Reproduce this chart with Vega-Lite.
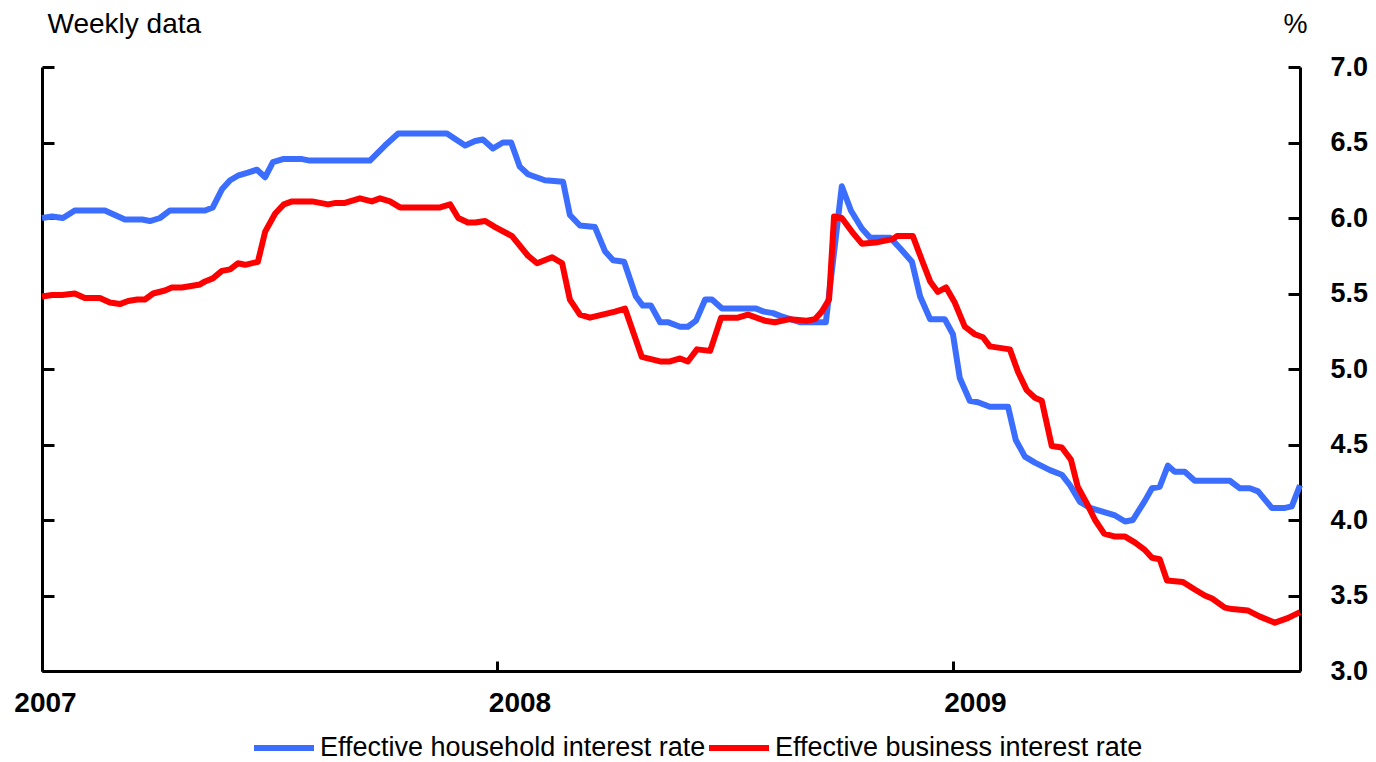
{
  "$schema": "https://vega.github.io/schema/vega-lite/v6.json",
  "width": 1258,
  "height": 604,
  "autosize": "none",
  "padding": {"left": 42, "top": 67, "right": 76, "bottom": 91},
  "background": "white",
  "config": {
    "view": {"stroke": null},
    "font": "Liberation Sans",
    "axis": {"grid": false, "domainColor": "black", "domainWidth": 3, "tickColor": "black", "tickWidth": 3, "labelColor": "black", "titleColor": "black"}
  },
  "datasets": {
    "rates": [
      {"series": "Effective household interest rate", "time": 2007.000, "rate": 6.00},
      {"series": "Effective household interest rate", "time": 2007.022, "rate": 6.01},
      {"series": "Effective household interest rate", "time": 2007.046, "rate": 6.00},
      {"series": "Effective household interest rate", "time": 2007.072, "rate": 6.05},
      {"series": "Effective household interest rate", "time": 2007.138, "rate": 6.05},
      {"series": "Effective household interest rate", "time": 2007.160, "rate": 6.02},
      {"series": "Effective household interest rate", "time": 2007.182, "rate": 5.99},
      {"series": "Effective household interest rate", "time": 2007.220, "rate": 5.99},
      {"series": "Effective household interest rate", "time": 2007.237, "rate": 5.98},
      {"series": "Effective household interest rate", "time": 2007.259, "rate": 6.00},
      {"series": "Effective household interest rate", "time": 2007.281, "rate": 6.05},
      {"series": "Effective household interest rate", "time": 2007.358, "rate": 6.05},
      {"series": "Effective household interest rate", "time": 2007.375, "rate": 6.07},
      {"series": "Effective household interest rate", "time": 2007.395, "rate": 6.19},
      {"series": "Effective household interest rate", "time": 2007.413, "rate": 6.25},
      {"series": "Effective household interest rate", "time": 2007.430, "rate": 6.28},
      {"series": "Effective household interest rate", "time": 2007.452, "rate": 6.30},
      {"series": "Effective household interest rate", "time": 2007.472, "rate": 6.32},
      {"series": "Effective household interest rate", "time": 2007.490, "rate": 6.27},
      {"series": "Effective household interest rate", "time": 2007.507, "rate": 6.37},
      {"series": "Effective household interest rate", "time": 2007.529, "rate": 6.39},
      {"series": "Effective household interest rate", "time": 2007.571, "rate": 6.39},
      {"series": "Effective household interest rate", "time": 2007.588, "rate": 6.38},
      {"series": "Effective household interest rate", "time": 2007.720, "rate": 6.38},
      {"series": "Effective household interest rate", "time": 2007.753, "rate": 6.48},
      {"series": "Effective household interest rate", "time": 2007.782, "rate": 6.56},
      {"series": "Effective household interest rate", "time": 2007.889, "rate": 6.56},
      {"series": "Effective household interest rate", "time": 2007.929, "rate": 6.48},
      {"series": "Effective household interest rate", "time": 2007.951, "rate": 6.51},
      {"series": "Effective household interest rate", "time": 2007.968, "rate": 6.52},
      {"series": "Effective household interest rate", "time": 2007.990, "rate": 6.46},
      {"series": "Effective household interest rate", "time": 2008.012, "rate": 6.50},
      {"series": "Effective household interest rate", "time": 2008.030, "rate": 6.50},
      {"series": "Effective household interest rate", "time": 2008.049, "rate": 6.34},
      {"series": "Effective household interest rate", "time": 2008.067, "rate": 6.29},
      {"series": "Effective household interest rate", "time": 2008.104, "rate": 6.25},
      {"series": "Effective household interest rate", "time": 2008.144, "rate": 6.24},
      {"series": "Effective household interest rate", "time": 2008.159, "rate": 6.02},
      {"series": "Effective household interest rate", "time": 2008.181, "rate": 5.95},
      {"series": "Effective household interest rate", "time": 2008.214, "rate": 5.94},
      {"series": "Effective household interest rate", "time": 2008.236, "rate": 5.78},
      {"series": "Effective household interest rate", "time": 2008.254, "rate": 5.72},
      {"series": "Effective household interest rate", "time": 2008.278, "rate": 5.71},
      {"series": "Effective household interest rate", "time": 2008.304, "rate": 5.48},
      {"series": "Effective household interest rate", "time": 2008.319, "rate": 5.42},
      {"series": "Effective household interest rate", "time": 2008.337, "rate": 5.42},
      {"series": "Effective household interest rate", "time": 2008.357, "rate": 5.31},
      {"series": "Effective household interest rate", "time": 2008.374, "rate": 5.31},
      {"series": "Effective household interest rate", "time": 2008.401, "rate": 5.28},
      {"series": "Effective household interest rate", "time": 2008.418, "rate": 5.28},
      {"series": "Effective household interest rate", "time": 2008.436, "rate": 5.32},
      {"series": "Effective household interest rate", "time": 2008.456, "rate": 5.46},
      {"series": "Effective household interest rate", "time": 2008.471, "rate": 5.46},
      {"series": "Effective household interest rate", "time": 2008.493, "rate": 5.40},
      {"series": "Effective household interest rate", "time": 2008.568, "rate": 5.40},
      {"series": "Effective household interest rate", "time": 2008.585, "rate": 5.38},
      {"series": "Effective household interest rate", "time": 2008.605, "rate": 5.37},
      {"series": "Effective household interest rate", "time": 2008.622, "rate": 5.35},
      {"series": "Effective household interest rate", "time": 2008.664, "rate": 5.31},
      {"series": "Effective household interest rate", "time": 2008.721, "rate": 5.31},
      {"series": "Effective household interest rate", "time": 2008.756, "rate": 6.21},
      {"series": "Effective household interest rate", "time": 2008.776, "rate": 6.05},
      {"series": "Effective household interest rate", "time": 2008.800, "rate": 5.93},
      {"series": "Effective household interest rate", "time": 2008.818, "rate": 5.87},
      {"series": "Effective household interest rate", "time": 2008.862, "rate": 5.87},
      {"series": "Effective household interest rate", "time": 2008.884, "rate": 5.80},
      {"series": "Effective household interest rate", "time": 2008.910, "rate": 5.71},
      {"series": "Effective household interest rate", "time": 2008.928, "rate": 5.48},
      {"series": "Effective household interest rate", "time": 2008.950, "rate": 5.33},
      {"series": "Effective household interest rate", "time": 2008.982, "rate": 5.33},
      {"series": "Effective household interest rate", "time": 2009.000, "rate": 5.23},
      {"series": "Effective household interest rate", "time": 2009.015, "rate": 4.94},
      {"series": "Effective household interest rate", "time": 2009.037, "rate": 4.79},
      {"series": "Effective household interest rate", "time": 2009.055, "rate": 4.78},
      {"series": "Effective household interest rate", "time": 2009.081, "rate": 4.75},
      {"series": "Effective household interest rate", "time": 2009.121, "rate": 4.75},
      {"series": "Effective household interest rate", "time": 2009.138, "rate": 4.53},
      {"series": "Effective household interest rate", "time": 2009.158, "rate": 4.42},
      {"series": "Effective household interest rate", "time": 2009.180, "rate": 4.38},
      {"series": "Effective household interest rate", "time": 2009.213, "rate": 4.33},
      {"series": "Effective household interest rate", "time": 2009.239, "rate": 4.30},
      {"series": "Effective household interest rate", "time": 2009.257, "rate": 4.23},
      {"series": "Effective household interest rate", "time": 2009.279, "rate": 4.12},
      {"series": "Effective household interest rate", "time": 2009.301, "rate": 4.08},
      {"series": "Effective household interest rate", "time": 2009.334, "rate": 4.05},
      {"series": "Effective household interest rate", "time": 2009.356, "rate": 4.03},
      {"series": "Effective household interest rate", "time": 2009.378, "rate": 3.99},
      {"series": "Effective household interest rate", "time": 2009.395, "rate": 4.00},
      {"series": "Effective household interest rate", "time": 2009.422, "rate": 4.13},
      {"series": "Effective household interest rate", "time": 2009.437, "rate": 4.21},
      {"series": "Effective household interest rate", "time": 2009.454, "rate": 4.22},
      {"series": "Effective household interest rate", "time": 2009.472, "rate": 4.36},
      {"series": "Effective household interest rate", "time": 2009.487, "rate": 4.32},
      {"series": "Effective household interest rate", "time": 2009.509, "rate": 4.32},
      {"series": "Effective household interest rate", "time": 2009.531, "rate": 4.26},
      {"series": "Effective household interest rate", "time": 2009.608, "rate": 4.26},
      {"series": "Effective household interest rate", "time": 2009.630, "rate": 4.21},
      {"series": "Effective household interest rate", "time": 2009.652, "rate": 4.21},
      {"series": "Effective household interest rate", "time": 2009.670, "rate": 4.19},
      {"series": "Effective household interest rate", "time": 2009.700, "rate": 4.08},
      {"series": "Effective household interest rate", "time": 2009.729, "rate": 4.08},
      {"series": "Effective household interest rate", "time": 2009.744, "rate": 4.09},
      {"series": "Effective household interest rate", "time": 2009.762, "rate": 4.23},
      {"series": "Effective business interest rate", "time": 2007.000, "rate": 5.48},
      {"series": "Effective business interest rate", "time": 2007.022, "rate": 5.49},
      {"series": "Effective business interest rate", "time": 2007.044, "rate": 5.49},
      {"series": "Effective business interest rate", "time": 2007.072, "rate": 5.50},
      {"series": "Effective business interest rate", "time": 2007.094, "rate": 5.47},
      {"series": "Effective business interest rate", "time": 2007.127, "rate": 5.47},
      {"series": "Effective business interest rate", "time": 2007.149, "rate": 5.44},
      {"series": "Effective business interest rate", "time": 2007.171, "rate": 5.43},
      {"series": "Effective business interest rate", "time": 2007.189, "rate": 5.45},
      {"series": "Effective business interest rate", "time": 2007.209, "rate": 5.46},
      {"series": "Effective business interest rate", "time": 2007.226, "rate": 5.46},
      {"series": "Effective business interest rate", "time": 2007.244, "rate": 5.50},
      {"series": "Effective business interest rate", "time": 2007.270, "rate": 5.52},
      {"series": "Effective business interest rate", "time": 2007.285, "rate": 5.54},
      {"series": "Effective business interest rate", "time": 2007.307, "rate": 5.54},
      {"series": "Effective business interest rate", "time": 2007.347, "rate": 5.56},
      {"series": "Effective business interest rate", "time": 2007.358, "rate": 5.58},
      {"series": "Effective business interest rate", "time": 2007.375, "rate": 5.60},
      {"series": "Effective business interest rate", "time": 2007.395, "rate": 5.65},
      {"series": "Effective business interest rate", "time": 2007.413, "rate": 5.66},
      {"series": "Effective business interest rate", "time": 2007.430, "rate": 5.70},
      {"series": "Effective business interest rate", "time": 2007.446, "rate": 5.69},
      {"series": "Effective business interest rate", "time": 2007.474, "rate": 5.71},
      {"series": "Effective business interest rate", "time": 2007.490, "rate": 5.91},
      {"series": "Effective business interest rate", "time": 2007.512, "rate": 6.03},
      {"series": "Effective business interest rate", "time": 2007.531, "rate": 6.09},
      {"series": "Effective business interest rate", "time": 2007.549, "rate": 6.11},
      {"series": "Effective business interest rate", "time": 2007.593, "rate": 6.11},
      {"series": "Effective business interest rate", "time": 2007.628, "rate": 6.09},
      {"series": "Effective business interest rate", "time": 2007.645, "rate": 6.10},
      {"series": "Effective business interest rate", "time": 2007.665, "rate": 6.10},
      {"series": "Effective business interest rate", "time": 2007.698, "rate": 6.13},
      {"series": "Effective business interest rate", "time": 2007.724, "rate": 6.11},
      {"series": "Effective business interest rate", "time": 2007.742, "rate": 6.13},
      {"series": "Effective business interest rate", "time": 2007.764, "rate": 6.11},
      {"series": "Effective business interest rate", "time": 2007.786, "rate": 6.07},
      {"series": "Effective business interest rate", "time": 2007.874, "rate": 6.07},
      {"series": "Effective business interest rate", "time": 2007.896, "rate": 6.09},
      {"series": "Effective business interest rate", "time": 2007.914, "rate": 6.00},
      {"series": "Effective business interest rate", "time": 2007.935, "rate": 5.97},
      {"series": "Effective business interest rate", "time": 2007.951, "rate": 5.97},
      {"series": "Effective business interest rate", "time": 2007.973, "rate": 5.98},
      {"series": "Effective business interest rate", "time": 2007.995, "rate": 5.94},
      {"series": "Effective business interest rate", "time": 2008.032, "rate": 5.88},
      {"series": "Effective business interest rate", "time": 2008.067, "rate": 5.75},
      {"series": "Effective business interest rate", "time": 2008.087, "rate": 5.70},
      {"series": "Effective business interest rate", "time": 2008.120, "rate": 5.74},
      {"series": "Effective business interest rate", "time": 2008.142, "rate": 5.70},
      {"series": "Effective business interest rate", "time": 2008.159, "rate": 5.46},
      {"series": "Effective business interest rate", "time": 2008.181, "rate": 5.36},
      {"series": "Effective business interest rate", "time": 2008.203, "rate": 5.34},
      {"series": "Effective business interest rate", "time": 2008.258, "rate": 5.38},
      {"series": "Effective business interest rate", "time": 2008.280, "rate": 5.40},
      {"series": "Effective business interest rate", "time": 2008.317, "rate": 5.08},
      {"series": "Effective business interest rate", "time": 2008.357, "rate": 5.05},
      {"series": "Effective business interest rate", "time": 2008.379, "rate": 5.05},
      {"series": "Effective business interest rate", "time": 2008.401, "rate": 5.07},
      {"series": "Effective business interest rate", "time": 2008.418, "rate": 5.05},
      {"series": "Effective business interest rate", "time": 2008.438, "rate": 5.13},
      {"series": "Effective business interest rate", "time": 2008.467, "rate": 5.12},
      {"series": "Effective business interest rate", "time": 2008.491, "rate": 5.34},
      {"series": "Effective business interest rate", "time": 2008.528, "rate": 5.34},
      {"series": "Effective business interest rate", "time": 2008.550, "rate": 5.36},
      {"series": "Effective business interest rate", "time": 2008.587, "rate": 5.32},
      {"series": "Effective business interest rate", "time": 2008.609, "rate": 5.31},
      {"series": "Effective business interest rate", "time": 2008.642, "rate": 5.33},
      {"series": "Effective business interest rate", "time": 2008.679, "rate": 5.32},
      {"series": "Effective business interest rate", "time": 2008.697, "rate": 5.33},
      {"series": "Effective business interest rate", "time": 2008.712, "rate": 5.38},
      {"series": "Effective business interest rate", "time": 2008.728, "rate": 5.46},
      {"series": "Effective business interest rate", "time": 2008.739, "rate": 6.01},
      {"series": "Effective business interest rate", "time": 2008.756, "rate": 6.00},
      {"series": "Effective business interest rate", "time": 2008.778, "rate": 5.91},
      {"series": "Effective business interest rate", "time": 2008.800, "rate": 5.83},
      {"series": "Effective business interest rate", "time": 2008.835, "rate": 5.84},
      {"series": "Effective business interest rate", "time": 2008.868, "rate": 5.86},
      {"series": "Effective business interest rate", "time": 2008.877, "rate": 5.88},
      {"series": "Effective business interest rate", "time": 2008.912, "rate": 5.88},
      {"series": "Effective business interest rate", "time": 2008.932, "rate": 5.72},
      {"series": "Effective business interest rate", "time": 2008.950, "rate": 5.58},
      {"series": "Effective business interest rate", "time": 2008.967, "rate": 5.51},
      {"series": "Effective business interest rate", "time": 2008.985, "rate": 5.54},
      {"series": "Effective business interest rate", "time": 2009.004, "rate": 5.44},
      {"series": "Effective business interest rate", "time": 2009.026, "rate": 5.28},
      {"series": "Effective business interest rate", "time": 2009.048, "rate": 5.23},
      {"series": "Effective business interest rate", "time": 2009.066, "rate": 5.21},
      {"series": "Effective business interest rate", "time": 2009.081, "rate": 5.15},
      {"series": "Effective business interest rate", "time": 2009.125, "rate": 5.13},
      {"series": "Effective business interest rate", "time": 2009.143, "rate": 4.98},
      {"series": "Effective business interest rate", "time": 2009.162, "rate": 4.86},
      {"series": "Effective business interest rate", "time": 2009.180, "rate": 4.81},
      {"series": "Effective business interest rate", "time": 2009.195, "rate": 4.79},
      {"series": "Effective business interest rate", "time": 2009.217, "rate": 4.49},
      {"series": "Effective business interest rate", "time": 2009.239, "rate": 4.48},
      {"series": "Effective business interest rate", "time": 2009.259, "rate": 4.40},
      {"series": "Effective business interest rate", "time": 2009.274, "rate": 4.22},
      {"series": "Effective business interest rate", "time": 2009.294, "rate": 4.11},
      {"series": "Effective business interest rate", "time": 2009.312, "rate": 4.00},
      {"series": "Effective business interest rate", "time": 2009.332, "rate": 3.91},
      {"series": "Effective business interest rate", "time": 2009.356, "rate": 3.89},
      {"series": "Effective business interest rate", "time": 2009.378, "rate": 3.89},
      {"series": "Effective business interest rate", "time": 2009.400, "rate": 3.85},
      {"series": "Effective business interest rate", "time": 2009.422, "rate": 3.80},
      {"series": "Effective business interest rate", "time": 2009.437, "rate": 3.75},
      {"series": "Effective business interest rate", "time": 2009.454, "rate": 3.74},
      {"series": "Effective business interest rate", "time": 2009.470, "rate": 3.60},
      {"series": "Effective business interest rate", "time": 2009.505, "rate": 3.59},
      {"series": "Effective business interest rate", "time": 2009.531, "rate": 3.54},
      {"series": "Effective business interest rate", "time": 2009.553, "rate": 3.50},
      {"series": "Effective business interest rate", "time": 2009.569, "rate": 3.48},
      {"series": "Effective business interest rate", "time": 2009.597, "rate": 3.42},
      {"series": "Effective business interest rate", "time": 2009.613, "rate": 3.41},
      {"series": "Effective business interest rate", "time": 2009.648, "rate": 3.40},
      {"series": "Effective business interest rate", "time": 2009.674, "rate": 3.36},
      {"series": "Effective business interest rate", "time": 2009.707, "rate": 3.32},
      {"series": "Effective business interest rate", "time": 2009.735, "rate": 3.35},
      {"series": "Effective business interest rate", "time": 2009.762, "rate": 3.39}
    ]
  },
  "data": {"name": "rates"},
  "encoding": {
    "x": {"field": "time", "type": "quantitative", "scale": {"domain": [2007, 2009.762], "nice": false, "zero": false},
      "axis": {"values": [2007, 2008, 2009], "format": "d", "title": null, "tickSize": -10, "labelFlush": false, "labelFontSize": 28, "labelFontWeight": "bold", "labelPadding": 28, "labelOffset": {"condition": {"test": "datum.value == 2007", "value": 3}, "value": 22}}},
    "y": {"field": "rate", "type": "quantitative", "scale": {"domain": [3, 7], "nice": false, "zero": false}},
    "color": {"field": "series", "type": "nominal",
      "scale": {"domain": ["Effective household interest rate", "Effective business interest rate"], "range": ["#3B6EFF", "#FF0000"]},
      "legend": {"title": null, "orient": "none", "direction": "horizontal", "legendX": 209, "legendY": 648, "symbolType": "stroke", "symbolSize": 3600, "symbolStrokeWidth": 6, "labelFontSize": 27, "labelOffset": 3, "columnPadding": -12, "labelLimit": 600, "labelColor": "black"}}
  },
  "layer": [
    {
      "mark": {"type": "line", "strokeWidth": 6, "opacity": 0},
      "encoding": {
        "y": {"field": "rate", "type": "quantitative",
          "axis": {"orient": "left", "values": [3, 3.5, 4, 4.5, 5, 5.5, 6, 6.5, 7], "labels": false, "tickSize": -12, "title": "Weekly data", "titleAngle": 0, "titleAlign": "left", "titleBaseline": "alphabetic", "titleX": 5, "titleY": -35, "titleFontSize": 28, "titleFontWeight": "normal"}}
      }
    },
    {
      "transform": [{"filter": "datum.series == 'Effective household interest rate'"}],
      "mark": {"type": "line", "strokeWidth": 6, "strokeJoin": "round", "strokeCap": "butt"},
      "encoding": {
        "y": {"field": "rate", "type": "quantitative",
          "axis": {"orient": "right", "values": [3, 3.5, 4, 4.5, 5, 5.5, 6, 6.5, 7], "format": ".1f", "tickSize": -12, "labelPadding": 42, "labelFontSize": 27, "labelFontWeight": "bold", "title": "%", "titleAngle": 0, "titleAlign": "center", "titleBaseline": "alphabetic", "titleX": -5, "titleY": -35, "titleFontSize": 27, "titleFontWeight": "normal"}}
      }
    },
    {
      "transform": [{"filter": "datum.series == 'Effective business interest rate'"}],
      "mark": {"type": "line", "strokeWidth": 6, "strokeJoin": "round", "strokeCap": "butt"},
      "encoding": {
        "y": {"field": "rate", "type": "quantitative", "axis": null}
      }
    }
  ],
  "resolve": {"axis": {"y": "independent"}}
}
